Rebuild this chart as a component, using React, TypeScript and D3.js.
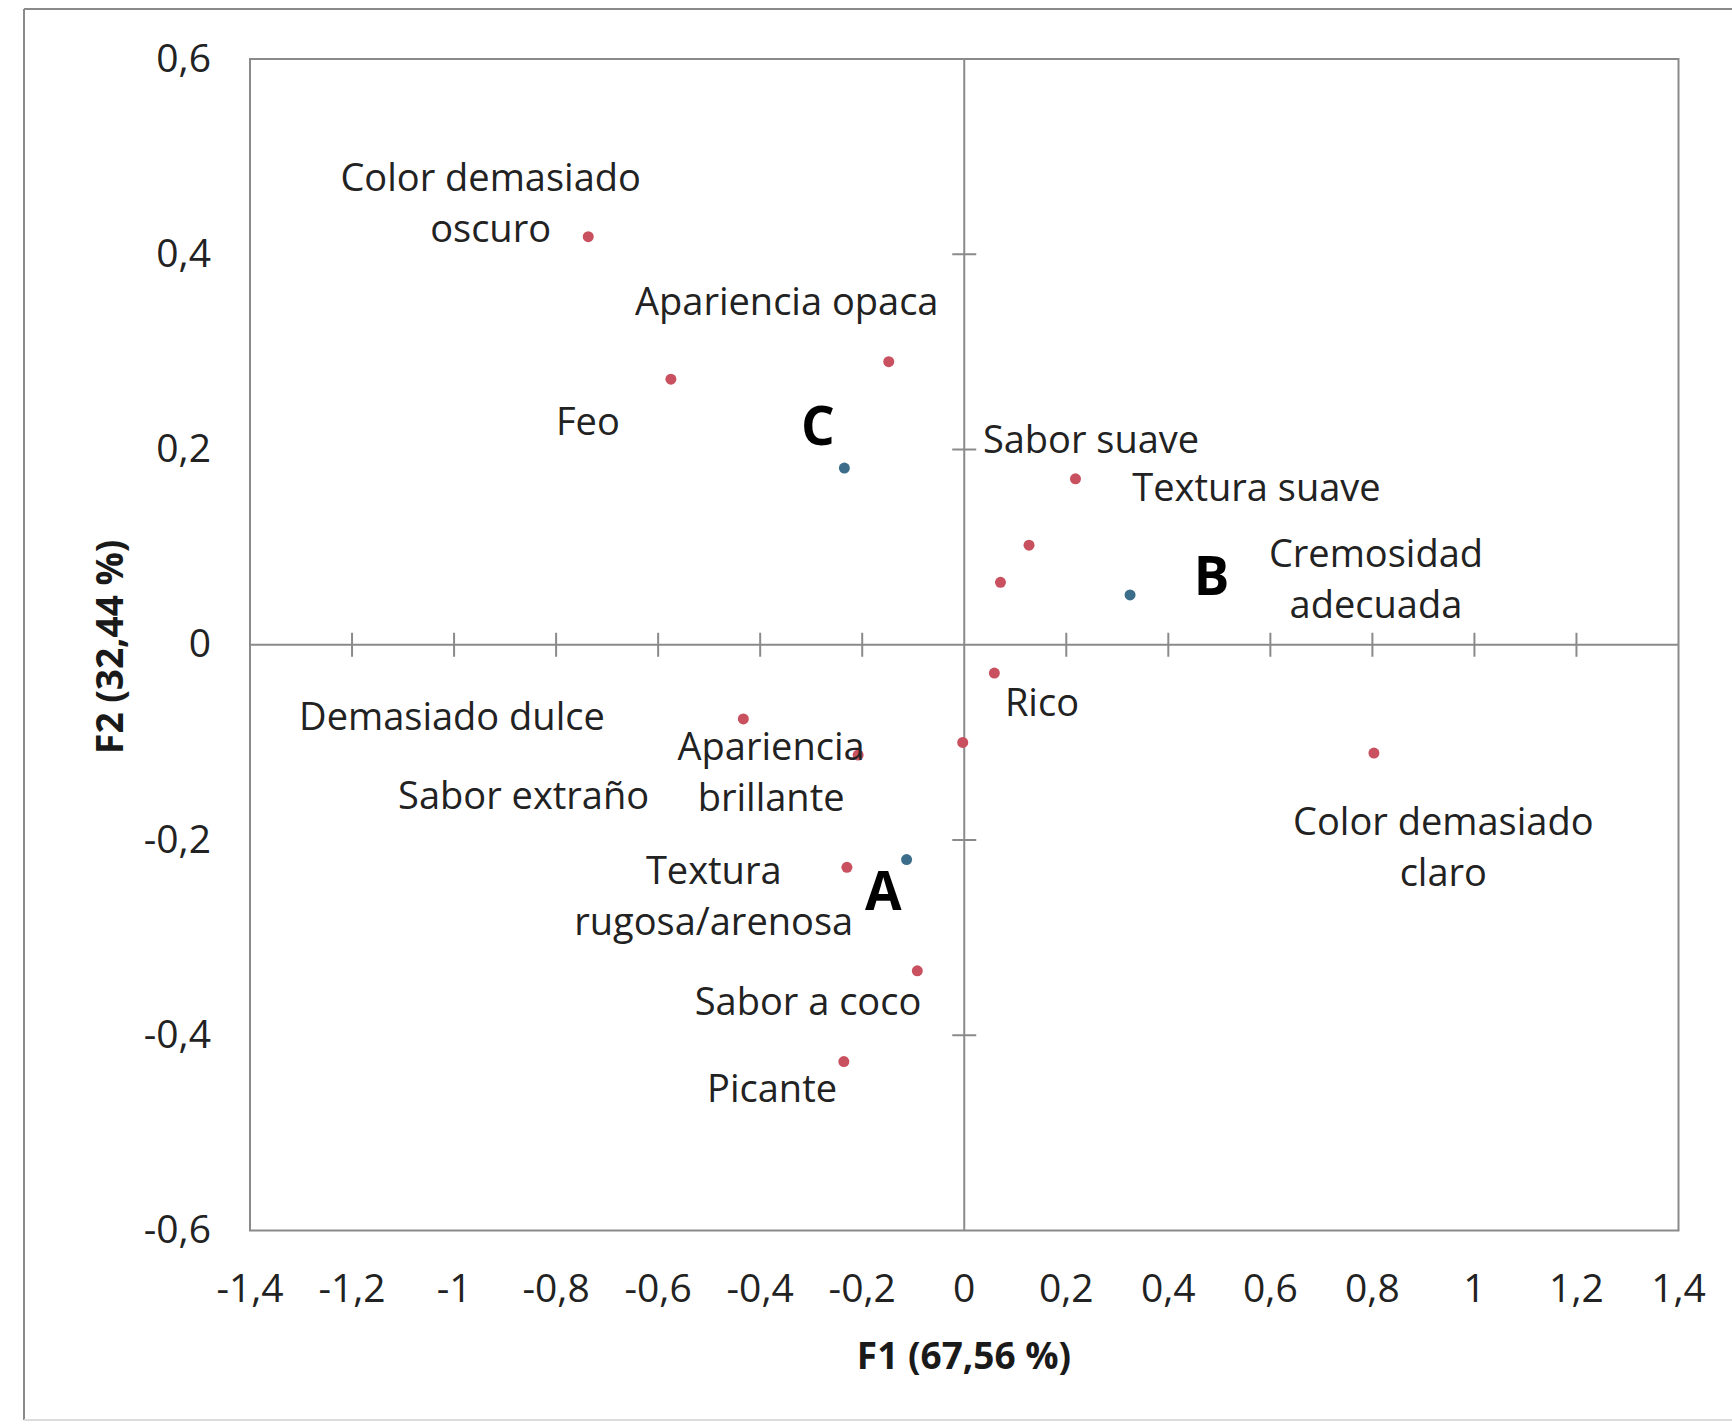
import React from "react";
import * as d3 from "d3";

// Attribute (column) coordinates on the first two factors
const attributeNames = [
  "Color demasiado oscuro",
  "Feo",
  "Apariencia opaca",
  "Textura suave",
  "Sabor suave",
  "Cremosidad adecuada",
  "Rico",
  "Demasiado dulce",
  "Sabor extraño",
  "Apariencia brillante",
  "Textura rugosa/arenosa",
  "Sabor a coco",
  "Picante",
  "Color demasiado claro",
];
const attributeF1 = [-0.737, -0.575, -0.148, 0.218, 0.127, 0.071, 0.059, -0.433, -0.003, -0.208, -0.23, -0.092, -0.236, 0.803];
const attributeF2 = [0.418, 0.272, 0.29, 0.17, 0.102, 0.064, -0.029, -0.076, -0.1, -0.113, -0.228, -0.334, -0.427, -0.111];

// Sample (row) coordinates
const sampleNames = ["A", "B", "C"];
const sampleF1 = [-0.113, 0.325, -0.235];
const sampleF2 = [-0.22, 0.051, 0.181];

// Axis ticks and titles
const xTicks = [-1.4, -1.2, -1, -0.8, -0.6, -0.4, -0.2, 0, 0.2, 0.4, 0.6, 0.8, 1, 1.2, 1.4];
const yTicks = [-0.6, -0.4, -0.2, 0, 0.2, 0.4, 0.6];
const xTitle = "F1 (67,56 %)";
const yTitle = "F2 (32,44 %)";

// Label placement relative to each point (pixels); `split` = words on the first line
const attributeLabelLayout = [
  { dx: -97.6, dy: -46, split: 2 },
  { dx: -83, dy: 56, split: 0 },
  { dx: -102, dy: -47, split: 0 },
  { dx: 181, dy: 22, split: 0 },
  { dx: 62, dy: -92.5, split: 0 },
  { dx: 375.5, dy: -15.3, split: 1 },
  { dx: 47.6, dy: 42.5, split: 0 },
  { dx: -291.4, dy: 11.4, split: 0 },
  { dx: -439.1, dy: 66.2, split: 0 },
  { dx: -87, dy: 5, split: 1 },
  { dx: -133.2, dy: 16.5, split: 1 },
  { dx: -109.3, dy: 44.2, split: 0 },
  { dx: -71.8, dy: 40.2, split: 0 },
  { dx: 69.4, dy: 81.8, split: 2 },
];
const sampleLabelLayout = [
  { dx: -23.3, dy: 50.5 },
  { dx: 81.5, dy: 0 },
  { dx: -26.4, dy: -23 },
];

const W = 1732;
const H = 1424;
const plot = { left: 250, right: 1678.5, top: 59, bottom: 1230.5 };
const LINE_H = 51;
const FONT = "'Open Sans', 'Noto Sans', sans-serif";
const AXIS = "#8a8a8a";
const TEXT = "#222222";
const RED = "#c9505e";
const BLUE = "#3c6e8c";

const fmt = (v: number) => (Math.abs(v) < 1e-9 ? "0" : String(+v.toFixed(1)).replace(".", ","));

function splitLines(name: string, split: number): string[] {
  if (!split) return [name];
  const words = name.split(" ");
  return [words.slice(0, split).join(" "), words.slice(split).join(" ")];
}

export default function App() {
  const x = d3.scaleLinear().domain([-1.4, 1.4]).range([plot.left, plot.right]);
  const y = d3.scaleLinear().domain([-0.6, 0.6]).range([plot.bottom, plot.top]);
  const x0 = x(0);
  const y0 = y(0);
  const tickHalf = 12;

  return (
    <svg
      width={W}
      height={H}
      viewBox={`0 0 ${W} ${H}`}
      style={{ position: "absolute", left: 0, top: 0, background: "#fff" }}
      fontFamily={FONT}
    >
      <rect x={0} y={0} width={W} height={H} fill="#fff" />
      {/* outer chart frame */}
      <line x1={24} y1={9} x2={W} y2={9} stroke={AXIS} strokeWidth={2} />
      <line x1={24} y1={9} x2={24} y2={1420} stroke={AXIS} strokeWidth={2} />
      <line x1={24} y1={1420} x2={W} y2={1420} stroke="#dcdcdc" strokeWidth={2} />

      {/* plot border */}
      <rect
        x={plot.left}
        y={plot.top}
        width={plot.right - plot.left}
        height={plot.bottom - plot.top}
        fill="none"
        stroke={AXIS}
        strokeWidth={2}
      />
      {/* zero axes */}
      <line x1={plot.left} x2={plot.right} y1={y0} y2={y0} stroke={AXIS} strokeWidth={2} />
      <line x1={x0} x2={x0} y1={plot.top} y2={plot.bottom} stroke={AXIS} strokeWidth={2} />

      {/* cross ticks on the zero axes */}
      {xTicks
        .filter((t) => Math.abs(t) > 1e-9 && Math.abs(t) < 1.39)
        .map((t) => (
          <line key={"xt" + t} x1={x(t)} x2={x(t)} y1={y0 - tickHalf} y2={y0 + tickHalf} stroke={AXIS} strokeWidth={2} />
        ))}
      {yTicks
        .filter((t) => Math.abs(t) > 1e-9 && Math.abs(t) < 0.59)
        .map((t) => (
          <line key={"yt" + t} x1={x0 - tickHalf} x2={x0 + tickHalf} y1={y(t)} y2={y(t)} stroke={AXIS} strokeWidth={2} />
        ))}

      {/* tick labels */}
      {xTicks.map((t) => (
        <text key={"xl" + t} x={x(t)} y={1301.5} textAnchor="middle" fontSize={39} fill={TEXT}>
          {fmt(t)}
        </text>
      ))}
      {yTicks.map((t) => (
        <text key={"yl" + t} x={211} y={y(t) + 12.5} textAnchor="end" fontSize={39} fill={TEXT}>
          {fmt(t)}
        </text>
      ))}

      {/* axis titles */}
      <text x={964} y={1369} textAnchor="middle" fontSize={37} fontWeight={700} fill="#1a1a1a">
        {xTitle}
      </text>
      <text
        transform={`translate(123, ${(plot.top + plot.bottom) / 2 + 2}) rotate(-90)`}
        textAnchor="middle"
        fontSize={37}
        fontWeight={700}
        fill="#1a1a1a"
      >
        {yTitle}
      </text>

      {/* attribute points */}
      {attributeNames.map((n, i) => (
        <circle key={"ap" + n} cx={x(attributeF1[i])} cy={y(attributeF2[i])} r={5.5} fill={RED} />
      ))}
      {/* sample points */}
      {sampleNames.map((n, i) => (
        <circle key={"sp" + n} cx={x(sampleF1[i])} cy={y(sampleF2[i])} r={5.5} fill={BLUE} />
      ))}

      {/* attribute labels */}
      {attributeNames.map((n, i) => {
        const L = attributeLabelLayout[i];
        const lx = x(attributeF1[i]) + L.dx;
        const ly = y(attributeF2[i]) + L.dy;
        return (
          <text key={"al" + n} x={lx} y={ly} textAnchor="middle" fontSize={38} fill={TEXT}>
            {splitLines(n, L.split).map((s, k) => (
              <tspan key={k} x={lx} dy={k === 0 ? 0 : LINE_H}>
                {s}
              </tspan>
            ))}
          </text>
        );
      })}
      {/* sample labels */}
      {sampleNames.map((n, i) => {
        const L = sampleLabelLayout[i];
        return (
          <text
            key={"sl" + n}
            x={x(sampleF1[i]) + L.dx}
            y={y(sampleF2[i]) + L.dy}
            textAnchor="middle"
            fontSize={53}
            fontWeight={700}
            fill="#000"
          >
            {n}
          </text>
        );
      })}
    </svg>
  );
}
